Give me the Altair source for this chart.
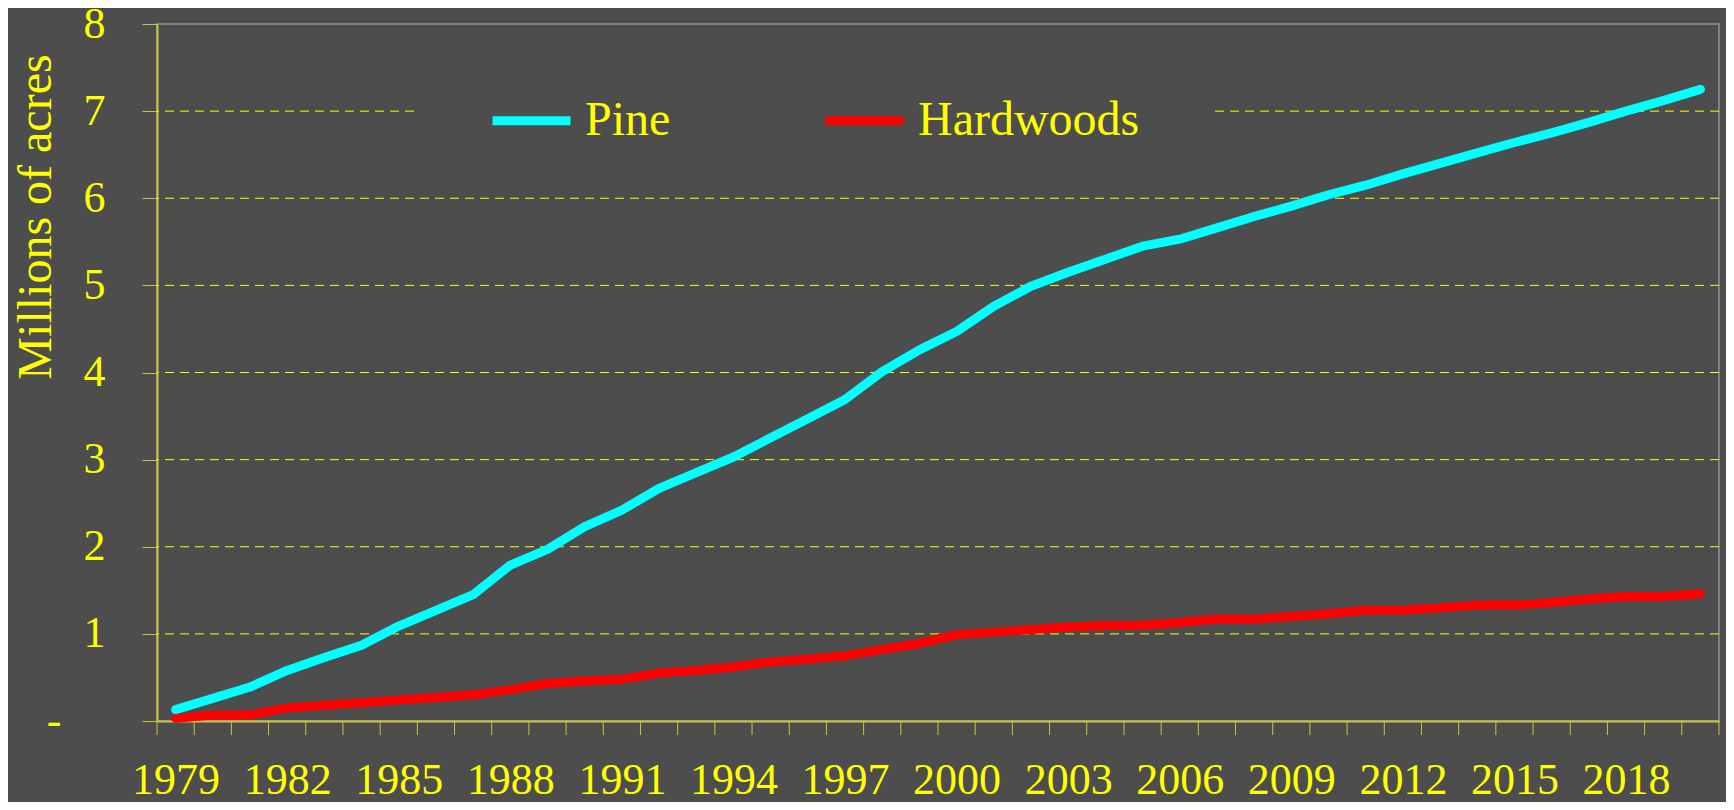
import altair as alt
import pandas as pd

years = list(range(1979, 2021))
pine = [0.13, 0.26, 0.39, 0.58, 0.73, 0.87, 1.09, 1.27, 1.45, 1.79,
        1.97, 2.23, 2.42, 2.67, 2.85, 3.03, 3.25, 3.47, 3.69, 4.01,
        4.26, 4.47, 4.76, 4.99, 5.15, 5.30, 5.45, 5.53, 5.66, 5.79,
        5.91, 6.04, 6.15, 6.28, 6.40, 6.52, 6.64, 6.75, 6.87, 7.00,
        7.12, 7.25]
hardwoods = [0.03, 0.07, 0.07, 0.15, 0.18, 0.21, 0.24, 0.27, 0.30, 0.36,
             0.43, 0.46, 0.48, 0.55, 0.58, 0.62, 0.68, 0.71, 0.75, 0.82,
             0.89, 0.99, 1.02, 1.05, 1.08, 1.095, 1.10, 1.13, 1.17, 1.17,
             1.20, 1.23, 1.27, 1.27, 1.30, 1.33, 1.33, 1.36, 1.40, 1.43,
             1.43, 1.46]
series_names = ["Pine", "Hardwoods"]
series_colors = ["#00ffff", "#ff0000"]
y_ticks = [0, 1, 2, 3, 4, 5, 6, 7, 8]
grid_values = [1, 2, 3, 4, 5, 6, 7]
x_label_years = list(range(1979, 2019, 3))

df = pd.DataFrame({
    "year": years + years,
    "value": pine + hardwoods,
    "series": ["Pine"] * len(years) + ["Hardwoods"] * len(years),
})
bounds = pd.DataFrame({"year": [y - 0.5 for y in years] + [years[-1] + 0.5]})
grid_df = pd.DataFrame({"value": grid_values})

FONT = "Liberation Serif"
YEL = "#ffff00"
AX = "#c8c83c"
BG = "#4d4d4d"
W, H = 1562, 697

xscale = alt.Scale(domain=[years[0] - 0.5, years[-1] + 0.5], nice=False, zero=False)
yscale = alt.Scale(domain=[0, 8], nice=False, zero=True)

x_axis = alt.Axis(
    values=x_label_years, format="d", ticks=False, grid=False,
    labelPadding=72, labelBaseline="alphabetic", labelFontSize=44,
    labelColor=YEL, labelFont=FONT, domainColor=AX, domainWidth=2,
    title=None, labelFlush=False, labelOverlap=False)
y_axis = alt.Axis(
    values=y_ticks, grid=False, tickSize=15, tickColor=AX, tickWidth=1,
    domainColor=AX, domainWidth=2, labelFontSize=44, labelColor=YEL,
    labelFont=FONT, labelPadding=37, labelBaseline="middle",
    labelExpr="datum.value == 0 ? '-\\u00a0\\u00a0\\u00a0\\u00a0\\u200b' : datum.label",
    title="Millions of acres", titleFont=FONT, titleFontSize=48,
    titleColor=YEL, titleFontWeight="normal", titleX=-107, titleY=192.5,
    titleAngle=270, titleAlign="center", titleBaseline="alphabetic")

grid = alt.Chart(grid_df).mark_rule(color=YEL, strokeWidth=1, strokeDash=[9, 6]).encode(
    y=alt.Y("value:Q", scale=yscale, axis=y_axis)
)

ticks = alt.Chart(bounds).mark_rule(color=AX, strokeWidth=1).encode(
    x=alt.X("year:Q", scale=xscale, axis=x_axis),
    y=alt.value(H),
    y2=alt.value(H + 14),
)

lines = alt.Chart(df).mark_line(strokeWidth=9, strokeCap="round", strokeJoin="round").encode(
    x=alt.X("year:Q", scale=xscale, axis=x_axis),
    y=alt.Y("value:Q", scale=yscale, axis=y_axis),
    color=alt.Color("series:N",
                    scale=alt.Scale(domain=series_names, range=series_colors),
                    legend=alt.Legend(
                        orient="none", legendX=263, legendY=13,
                        direction="horizontal", title="\u00a0", titleOrient="left",
                        titleFontSize=48, titlePadding=28, titleFont=FONT,
                        titleColor=YEL, fillColor=BG, padding=40,
                        symbolType="stroke", symbolSize=6084,
                        symbolStrokeWidth=9, labelFontSize=48, labelFont=FONT,
                        labelColor=YEL, labelOffset=10, columnPadding=136,
                        labelLimit=0,
                        labelExpr="datum.label == 'Hardwoods' ? 'Hardwoods\\u00a0\\u00a0\\u2009\\u200b' : datum.label")),
)

chart = alt.layer(grid, ticks, lines).properties(
    width=W, height=H,
    background=BG,
    padding={"left": 149, "top": 16, "right": 7, "bottom": 81},
    autosize=alt.AutoSizeParams(type="none"),
).configure_view(stroke="#808080", strokeWidth=2)

chart.save("out.html", embed_options={"renderer": "svg", "actions": False})
